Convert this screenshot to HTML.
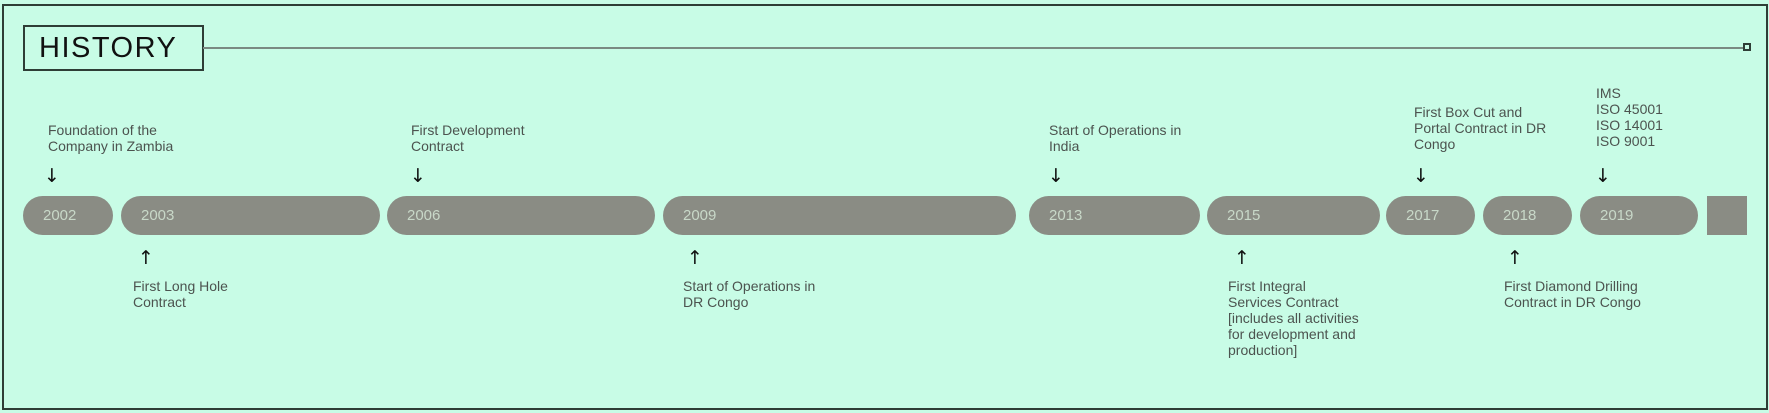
<!DOCTYPE html>
<html><head><meta charset="utf-8"><style>
body{margin:0;width:1769px;height:413px;background:#c8fce6;position:relative;overflow:hidden;font-family:"Liberation Sans",sans-serif}
.frame{position:absolute;left:2px;top:4px;width:1762px;height:402px;border:2px solid #2e3d36}
.hist{position:absolute;left:23px;top:25px;width:177px;height:42px;border:2px solid #2e3d36;font-size:29px;line-height:42px;color:#111;letter-spacing:1.5px;text-indent:14px}
.line{position:absolute;left:203px;top:47px;width:1541px;height:2px;background:#7a8a82}
.sq{position:absolute;left:1743px;top:43px;width:4px;height:4px;border:2px solid #2e3d36}
.p{position:absolute;top:196px;height:39px;border-radius:20px;background:#8a8c84;color:#c8d8c8;font-size:15px;line-height:39px;text-indent:20px}
.t{position:absolute;font-size:14px;line-height:16px;color:#4c534f;white-space:nowrap}
.a{position:absolute;font-family:"DejaVu Sans",sans-serif;font-size:19px;line-height:20px;color:#111}
</style></head><body>
<div class="frame"></div>
<div class="hist">HISTORY</div>
<div class="line"></div><div class="sq"></div>

<div class="p" style="left:23px;width:90px">2002</div>
<div class="p" style="left:121px;width:259px">2003</div>
<div class="p" style="left:387px;width:268px">2006</div>
<div class="p" style="left:663px;width:353px">2009</div>
<div class="p" style="left:1029px;width:171px">2013</div>
<div class="p" style="left:1207px;width:173px">2015</div>
<div class="p" style="left:1386px;width:89px">2017</div>
<div class="p" style="left:1483px;width:89px">2018</div>
<div class="p" style="left:1580px;width:118px">2019</div>
<div class="p" style="left:1707px;width:40px;border-radius:0"></div>

<div class="t" style="left:48px;top:122px">Foundation of the<br>Company in Zambia</div>
<div class="a" style="left:44px;top:166px">↓</div>
<div class="t" style="left:411px;top:122px">First Development<br>Contract</div>
<div class="a" style="left:410px;top:166px">↓</div>
<div class="t" style="left:1049px;top:122px">Start of Operations in<br>India</div>
<div class="a" style="left:1048px;top:166px">↓</div>
<div class="t" style="left:1414px;top:104px">First Box Cut and<br>Portal Contract in DR<br>Congo</div>
<div class="a" style="left:1413px;top:166px">↓</div>
<div class="t" style="left:1596px;top:85px">IMS<br>ISO 45001<br>ISO 14001<br>ISO 9001</div>
<div class="a" style="left:1595px;top:166px">↓</div>

<div class="a" style="left:138px;top:248px">↑</div>
<div class="t" style="left:133px;top:278px">First Long Hole<br>Contract</div>
<div class="a" style="left:687px;top:248px">↑</div>
<div class="t" style="left:683px;top:278px">Start of Operations in<br>DR Congo</div>
<div class="a" style="left:1234px;top:248px">↑</div>
<div class="t" style="left:1228px;top:278px">First Integral<br>Services Contract<br>[includes all activities<br>for development and<br>production]</div>
<div class="a" style="left:1507px;top:248px">↑</div>
<div class="t" style="left:1504px;top:278px">First Diamond Drilling<br>Contract in DR Congo</div>
</body></html>
